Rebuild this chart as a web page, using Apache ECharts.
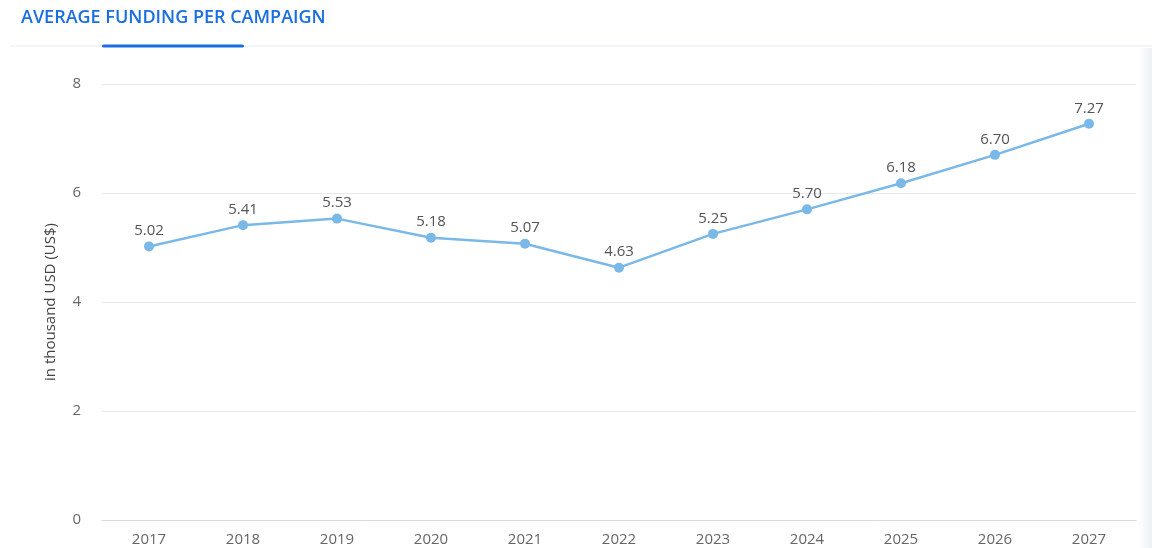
<!DOCTYPE html>
<html>
<head>
<meta charset="utf-8">
<script src="https://cdn.jsdelivr.net/npm/echarts@6/dist/echarts.min.js"></script>
<style>
  html, body { margin: 0; padding: 0; background: #fff; }
  #chart { width: 1152px; height: 548px; }
</style>
</head>
<body>
<div id="chart"></div>
<script>
// Average funding per campaign, thousand USD
const years = ['2017', '2018', '2019', '2020', '2021', '2022', '2023', '2024', '2025', '2026', '2027'];
const fundingValues = [5.02, 5.41, 5.53, 5.18, 5.07, 4.63, 5.25, 5.70, 6.18, 6.70, 7.27];
const yTicks = [0, 2, 4, 6, 8];

const chart = echarts.init(document.getElementById('chart'), null, { renderer: 'canvas' });

const font = '"Open Sans", "Noto Sans", sans-serif';

chart.setOption({
  backgroundColor: '#ffffff',
  animation: false,
  graphic: [
    {
      type: 'text',
      left: 21,
      top: 9,
      style: {
        text: 'AVERAGE FUNDING PER CAMPAIGN',
        fill: '#1a6fe0',
        font: '600 18px ' + font
      }
    },
    {
      type: 'rect',
      shape: { x: 10, y: 45, width: 1142, height: 2 },
      style: { fill: '#f2f5f9' }
    },
    {
      type: 'rect',
      shape: { x: 102, y: 44.5, width: 142, height: 3, r: 1.5 },
      style: { fill: '#1a6fe0' }
    },
    {
      type: 'rect',
      shape: { x: 1138, y: 48, width: 14, height: 500 },
      style: {
        fill: new echarts.graphic.LinearGradient(0, 0, 1, 0, [
          { offset: 0, color: 'rgba(240,242,246,0)' },
          { offset: 1, color: 'rgba(236,239,244,1)' }
        ])
      },
      silent: true
    }
  ],
  grid: {
    left: 102,
    right: 16,
    top: 84,
    bottom: 28,
    containLabel: false
  },
  xAxis: {
    type: 'category',
    data: years,
    boundaryGap: true,
    axisLine: { lineStyle: { color: '#d5dae6', width: 1 } },
    axisTick: { show: false },
    axisLabel: {
      color: '#666',
      fontSize: 15,
      fontFamily: font,
      margin: 12
    }
  },
  yAxis: {
    type: 'value',
    min: 0,
    max: 8,
    interval: 2,
    name: 'in thousand USD (US$)',
    nameLocation: 'middle',
    nameGap: 44,
    nameTextStyle: { color: '#444', fontSize: 15, fontFamily: font },
    axisLine: { show: false },
    axisTick: { show: false },
    axisLabel: {
      color: '#666',
      fontSize: 15,
      fontFamily: font,
      margin: 21,
      formatter: v => (yTicks.includes(v) ? String(v) : '')
    },
    splitLine: { lineStyle: { color: '#e8e9ee', width: 1 } }
  },
  series: [
    {
      type: 'line',
      data: fundingValues,
      symbol: 'circle',
      symbolSize: 10,
      lineStyle: { color: '#7ab8e8', width: 2.5 },
      itemStyle: { color: '#7ab8e8' },
      label: {
        show: true,
        position: 'top',
        distance: 3,
        color: '#555',
        fontSize: 15,
        fontFamily: font,
        formatter: p => p.value.toFixed(2)
      }
    }
  ]
});
</script>
</body>
</html>
